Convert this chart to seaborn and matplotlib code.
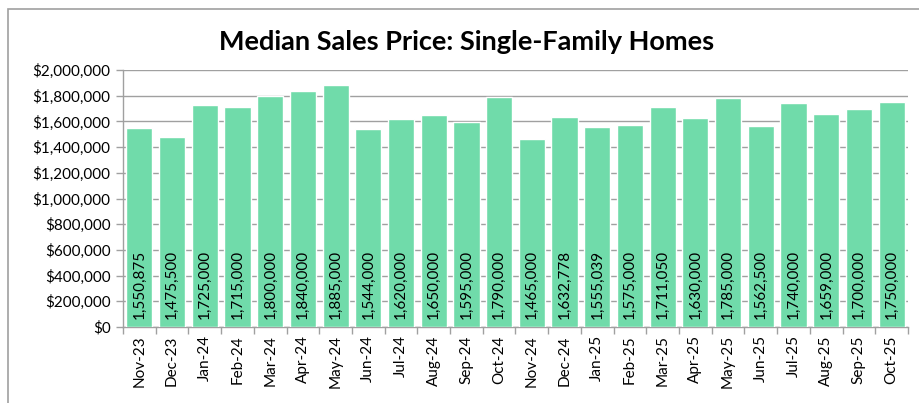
import matplotlib
matplotlib.use("Agg")
import matplotlib.pyplot as plt
import seaborn as sns
import pandas as pd
import numpy as np
from matplotlib.patches import Rectangle
from matplotlib.ticker import FuncFormatter, FixedLocator

months = ["Nov-23", "Dec-23", "Jan-24", "Feb-24", "Mar-24", "Apr-24", "May-24", "Jun-24",
          "Jul-24", "Aug-24", "Sep-24", "Oct-24", "Nov-24", "Dec-24", "Jan-25", "Feb-25",
          "Mar-25", "Apr-25", "May-25", "Jun-25", "Jul-25", "Aug-25", "Sep-25", "Oct-25"]
prices = [1550875, 1475500, 1725000, 1715000, 1800000, 1840000, 1885000, 1544000,
          1620000, 1650000, 1595000, 1790000, 1465000, 1632778, 1555039, 1575000,
          1711050, 1630000, 1785000, 1562500, 1740000, 1659000, 1700000, 1750000]
title = "Median Sales Price: Single-Family Homes"
y_ticks = [0, 200000, 400000, 600000, 800000, 1000000, 1200000, 1400000, 1600000, 1800000, 2000000]

df = pd.DataFrame({"Month": months, "Price": prices})

sns.set_style("white")
plt.rcParams["font.family"] = ["Lato", "DejaVu Sans"]

fig = plt.figure(figsize=(9.2, 4.03), dpi=100)
ax = fig.add_axes([123/920, 1 - 327/403, (908 - 123)/920, (327 - 70)/403])

sns.barplot(data=df, x="Month", y="Price", color="#70DBAA", saturation=1,
            width=0.8, ax=ax, zorder=3)

ax.set_ylim(0, 2000000)
ax.set_xlim(-0.5, len(months) - 0.5)
ax.yaxis.set_major_locator(FixedLocator(y_ticks))
ax.yaxis.set_major_formatter(FuncFormatter(lambda v, p: "${:,.0f}".format(v)))
ax.grid(axis="y", color="#A0A0A0", linewidth=1, zorder=0)
ax.set_axisbelow(True)
ax.set_xlabel("")
ax.set_ylabel("")

for s in ["top", "right"]:
    ax.spines[s].set_visible(False)
for s in ["left", "bottom"]:
    ax.spines[s].set_color("#A0A0A0")
    ax.spines[s].set_linewidth(1)

ax.tick_params(axis="y", which="major", length=5, color="#A0A0A0", width=1,
               labelsize=11, labelcolor="black", pad=4, left=True)
ax.set_xticks(range(len(months)))
ax.set_xticklabels(months, rotation=90)
ax.tick_params(axis="x", which="major", length=0, labelsize=11, labelcolor="black", pad=6)
ax.set_xticks(np.arange(-0.5, len(months), 1.0), minor=True)
ax.tick_params(axis="x", which="minor", length=5, color="#A0A0A0", width=1, bottom=True)

for i, v in enumerate(prices):
    ax.text(i, 65000, "{:,.0f}".format(v), rotation=90, ha="center", va="bottom",
            fontsize=11, color="black", zorder=4)

fig.text(467/920, 1 - 42/403, title, ha="center", va="center",
         fontsize=19.5, fontweight="bold", color="black")

fig.patches.append(Rectangle((8/920, -0.1), 1.2, 1 - 9/403 + 0.1,
                             transform=fig.transFigure, fill=False,
                             edgecolor="#A0A0A0", linewidth=1.2))

fig.savefig("out.png", dpi=100)
